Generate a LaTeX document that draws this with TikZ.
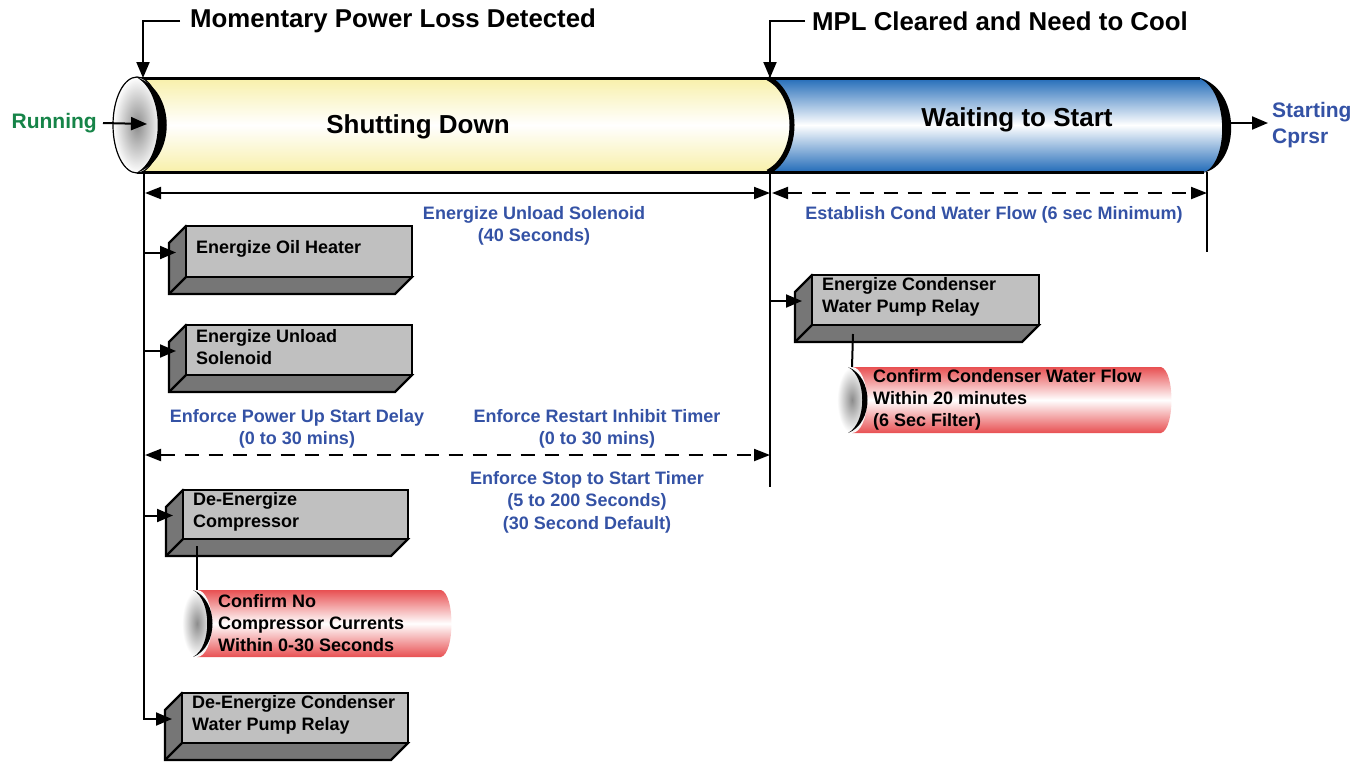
\documentclass[tikz,border=0pt]{standalone}
\usepackage{fontspec}
\setmainfont{Liberation Sans}
\usepackage{tikz}
\usepackage{xcolor}
\usetikzlibrary{arrows.meta, positioning, calc}

\definecolor{labelblue}{RGB}{52,82,165}
\definecolor{rungreen}{RGB}{22,132,72}
\definecolor{tubeyellow}{RGB}{248,240,170}
\definecolor{tubeblue}{RGB}{35,108,185}
\definecolor{tubered}{RGB}{232,80,82}
\definecolor{boxface}{RGB}{192,192,192}
\definecolor{boxside}{RGB}{118,118,118}

\tikzset{
  tip/.style={-{Triangle[length=16pt,width=13pt]}, line width=2pt},
  dimline/.style={{Triangle[length=16pt,width=12pt]}-{Triangle[length=16pt,width=12pt]}, line width=2pt},
  dashline/.style={dimline, dash pattern=on 14pt off 10pt},
  guide/.style={line width=2pt},
  title/.style={font=\bfseries\fontsize{25.8}{30}\selectfont, anchor=west, inner sep=0pt},
  tubelabel/.style={font=\bfseries\fontsize{26}{30}\selectfont, inner sep=0pt},
  bluelabel/.style={font=\bfseries\fontsize{18}{22.5}\selectfont, text=labelblue, align=center, inner sep=0pt},
  boxtext/.style={font=\bfseries\fontsize{18}{22}\selectfont, align=left, anchor=west, inner sep=0pt},
}

% 3D box: #1 name, (#2,#3) front top-left, (#4,#5) front bottom-right, #6 text
\newcommand{\bevelbox}[6]{%
  \filldraw[fill=boxside, line width=2.4pt] (#2,#3) -- (#2-17,#3+17) -- (#2-17,#5+17) -- (#4-17,#5+17) -- (#4,#5) -- cycle;
  \filldraw[fill=boxface, line width=2.4pt] (#2,#3) rectangle (#4,#5);
  \draw[line width=2.4pt] (#2,#5) -- (#2-17,#5+17);
  \coordinate (#1in) at (#2-10,{(#3+#5)/2+1});
  \node[boxtext] (#1) at (#2+10,{(#3+#5)/2-3}) {#6};
}

% check cylinder: #1 name, #2 cap x, #3 top y, #4 bottom y, #5 right x, #6 text
\newcommand{\checktube}[6]{%
  \shade[top color=tubered, bottom color=tubered, middle color=white] (#2,#3) -- (#5-12,#3) .. controls (#5+2,#3+4) and (#5+2,#4-4) .. (#5-12,#4) -- (#2,#4) -- cycle;
  \shade[inner color=black!45, outer color=white] (#2,{(#3+#4)/2}) ellipse [x radius=15, y radius={(#4-#3)/2}];
  \fill (#2-4,#3) .. controls (#2+22,#3+10) and (#2+22,#4-10) .. (#2-4,#4) .. controls (#2+15,#4-10) and (#2+15,#3+10) .. (#2-4,#3) -- cycle;
  \coordinate (#1top) at (#2,#3);
  \node[boxtext] (#1) at (#2+21,{(#3+#4)/2}) {#6};
}

\begin{document}
\begin{tikzpicture}[x=1pt, y=-1pt]
  \useasboundingbox (0,0) rectangle (1372,761);

  % Key points
  \coordinate (captop) at (143,78);
  \coordinate (capin) at (147,124);
  \coordinate (midtop) at (770,78);
  \coordinate (spinetop) at (144,172);
  \coordinate (midspine) at (770,172);
  \coordinate (midbot) at (770,487);
  \coordinate (endtop) at (1207,172);
  \coordinate (endbot) at (1207,252);
  \coordinate (blueend) at (1231,123);
  \coordinate (startin) at (1268,123);

  % Waiting tube
  \shade[top color=tubeblue, bottom color=tubeblue, middle color=white] (760,78) -- (1200,78) .. controls (1230,82) and (1230,168) .. (1204,172) -- (760,172) -- cycle;
  \fill (1195,77) .. controls (1242,84) and (1242,166) .. (1202,173) .. controls (1230,166) and (1230,84) .. (1195,77) -- cycle;

  % Shutting down tube
  \shade[top color=tubeyellow, bottom color=tubeyellow, middle color=white] (137,78) -- (768,78) .. controls (800,95) and (800,155) .. (768,172) -- (137,172) -- cycle;
  \draw[line width=5pt] (768,78) .. controls (800,95) and (800,155) .. (768,172);
  \draw[line width=3pt] (137,78) -- (1200,78) (137,172) -- (1204,172);

  % Front cap
  \shadedraw[inner color=black!45, outer color=white, draw=black, line width=1.2pt] (137,125) ellipse [x radius=24, y radius=48];
  \fill (136,77) .. controls (177,90) and (177,160) .. (136,173) .. controls (165,158) and (165,92) .. (136,77) -- cycle;

  % Events
  \node[title] (mpl) at (190,21) {Momentary Power Loss Detected};
  \node[title] (cleared) at (812,21) {MPL Cleared and Need to Cool};
  \draw[tip] ([xshift=-10pt]mpl.west) -| (captop);
  \draw[tip] ([xshift=-7pt]cleared.west) -| (midtop);

  % States
  \node[font=\bfseries\fontsize{21}{25}\selectfont, text=rungreen, anchor=east, inner sep=0pt] (running) at (97,123) {Running};
  \node[font=\bfseries\fontsize{21}{26}\selectfont, text=labelblue, align=left, anchor=west, inner sep=0pt] (starting) at (1272,125) {Starting\\Cprsr};
  \draw[tip] ([xshift=6pt]running.east) -- (capin);
  \draw[tip] (blueend) -- (startin);
  \node[tubelabel] (shutdown) at (418,127) {Shutting Down};
  \node[tubelabel] (waiting) at (1017,120) {Waiting to Start};

  % Guides
  \draw[guide] (midspine) -- (midbot);
  \draw[guide] (endtop) -- (endbot);

  % Timers
  \coordinate (d0) at (145,193); \coordinate (d1) at (770,193);
  \coordinate (d2) at (772,193); \coordinate (d3) at (1207,193);
  \coordinate (e0) at (145,455); \coordinate (e1) at (770,455);
  \draw[dimline] (d0) -- (d1);
  \draw[dashline] (d2) -- (d3);
  \draw[dashline] (e0) -- (e1);

  \node[bluelabel] (unloadtime) at (534,226) {Energize Unload Solenoid\\(40 Seconds)};
  \node[bluelabel] (condflow) at (994,215) {Establish Cond Water Flow (6 sec Minimum)};
  \node[bluelabel] (powerup) at (297,429) {Enforce Power Up Start Delay\\(0 to 30 mins)};
  \node[bluelabel] (inhibit) at (597,429) {Enforce Restart Inhibit Timer\\(0 to 30 mins)};
  \node[bluelabel] (stopstart) at (587,502) {Enforce Stop to Start Timer\\(5 to 200 Seconds)\\(30 Second Default)};

  % Actions
  \bevelbox{oilheater}{186}{226}{412}{277}{Energize Oil Heater}
  \bevelbox{unload}{186}{325}{412}{375}{Energize Unload\\Solenoid}
  \bevelbox{compressor}{183}{490}{408}{539}{De-Energize\\Compressor}
  \bevelbox{relayoff}{182}{693}{408}{743}{De-Energize Condenser\\Water Pump Relay}
  \bevelbox{relayon}{812}{275}{1039}{325}{Energize Condenser\\Water Pump Relay}

  \draw[tip] (spinetop |- oilheaterin) -- (oilheaterin);
  \draw[tip] (spinetop |- unloadin) -- (unloadin);
  \draw[tip] (spinetop |- compressorin) -- (compressorin);
  \draw[tip] (spinetop) |- (relayoffin);
  \draw[tip] (midspine |- relayonin) -- (relayonin);

  % Checks
  \checktube{confirmcur}{197}{590}{657}{453}{Confirm No\\Compressor Currents\\Within 0-30 Seconds}
  \checktube{confirmflow}{852}{367}{433}{1173}{Confirm Condenser Water Flow\\Within 20 minutes\\(6 Sec Filter)}
  \coordinate (compressorout) at (197,546);
  \coordinate (relayonout) at (853,334);
  \draw[guide] (compressorout) -- (confirmcurtop);
  \draw[guide] (relayonout) -- (confirmflowtop);
\end{tikzpicture}
\end{document}
